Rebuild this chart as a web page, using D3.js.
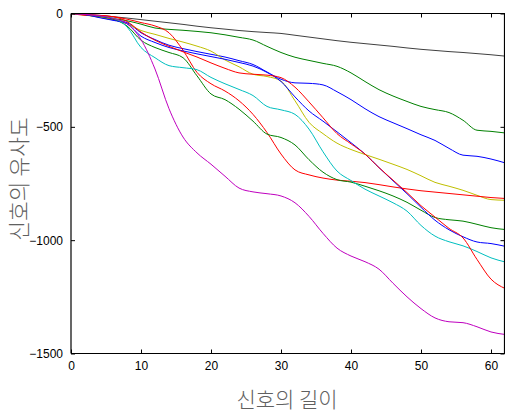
<!DOCTYPE html>
<html>
<head>
<meta charset="utf-8">
<script src="https://cdn.jsdelivr.net/npm/d3@7"></script>
<style>
  html, body { margin: 0; padding: 0; background: #fff; }
  svg { display: block; }
</style>
</head>
<body>
<svg id="chart" width="505" height="412"></svg>
<script>
// ---- data ----
const lengths = [0,2,4,6,8,10,12,14,16,18,20,22,24,26,28,30,32,34,36,38,40,42,44,46,48,50,52,54,56,58,60,62];

const seriesGray    = [0,-3,-8,-14,-20,-27,-34,-41,-48,-56,-63,-69,-75,-80,-84,-88,-96,-104,-112,-120,-127,-133,-139,-145,-152,-158,-163,-168,-172,-177,-182,-188];
const seriesGreen1  = [0,-6,-14,-22,-32,-47,-64,-70,-74,-79,-85,-94,-105,-117,-145,-172,-193,-207,-220,-233,-262,-300,-336,-364,-388,-410,-424,-437,-471,-515,-520,-527];
const seriesBlue1   = [0,-4,-16,-28,-40,-85,-115,-140,-155,-168,-180,-192,-208,-225,-258,-290,-306,-308,-315,-345,-380,-420,-455,-482,-508,-535,-560,-595,-625,-630,-642,-659];
const seriesYellow  = [0,-7,-16,-26,-45,-75,-92,-110,-126,-144,-166,-205,-235,-268,-278,-298,-385,-480,-530,-572,-600,-622,-643,-665,-688,-716,-745,-762,-780,-802,-821,-824];
const seriesRed1    = [0,-8,-10,-14,-25,-40,-55,-85,-162,-260,-310,-342,-385,-445,-525,-620,-690,-712,-726,-735,-740,-746,-755,-765,-774,-782,-788,-794,-800,-806,-812,-816];
const seriesGreen2  = [0,-4,-12,-25,-55,-118,-150,-172,-195,-275,-355,-380,-422,-475,-532,-547,-580,-645,-700,-733,-744,-762,-782,-805,-833,-868,-900,-910,-916,-930,-945,-953];
const seriesBlue2   = [0,-5,-18,-30,-45,-100,-128,-150,-165,-178,-190,-202,-216,-232,-260,-300,-368,-430,-475,-522,-570,-620,-680,-738,-795,-855,-912,-954,-985,-1008,-1015,-1027];
const seriesCyan    = [0,-4,-10,-20,-59,-150,-195,-230,-239,-248,-282,-310,-335,-362,-410,-425,-445,-510,-610,-695,-737,-775,-805,-835,-872,-935,-982,-1007,-1025,-1050,-1078,-1096];
const seriesRed2    = [0,-4,-8,-14,-35,-82,-118,-145,-169,-192,-218,-242,-262,-268,-272,-283,-325,-390,-460,-530,-575,-620,-680,-735,-790,-848,-898,-948,-990,-1085,-1172,-1213];
const seriesMagenta = [0,-4,-10,-22,-45,-115,-245,-420,-545,-615,-665,-718,-770,-787,-795,-805,-835,-895,-970,-1035,-1070,-1095,-1128,-1190,-1250,-1302,-1343,-1360,-1364,-1382,-1405,-1416];

const xTicks = [0,10,20,30,40,50,60];
const yTicks = [0,-500,-1000,-1500];
const xTitle = "신호의 길이";
const yTitle = "신호의 유사도";

const seriesList = [
  {values: seriesGray,    color: "#404040"},
  {values: seriesGreen1,  color: "#008000"},
  {values: seriesBlue1,   color: "#0000ff"},
  {values: seriesYellow,  color: "#bfbf00"},
  {values: seriesRed1,    color: "#ff0000"},
  {values: seriesGreen2,  color: "#008000"},
  {values: seriesBlue2,   color: "#0000ff"},
  {values: seriesCyan,    color: "#00bfbf"},
  {values: seriesRed2,    color: "#ff0000"},
  {values: seriesMagenta, color: "#bf00bf"}
];

// ---- layout ----
const svg = d3.select("#chart");
const x = d3.scaleLinear().domain([0, 62]).range([71, 505]);
const y = d3.scaleLinear().domain([-1500, 0]).range([353.5, 13.5]);

// lines
const line = d3.line()
  .x((d, i) => x(lengths[i]))
  .y(d => y(d))
  .curve(d3.curveMonotoneX);

svg.append("g")
  .selectAll("path")
  .data(seriesList)
  .join("path")
  .attr("fill", "none")
  .attr("stroke", d => d.color)
  .attr("stroke-width", 1)
  .attr("d", d => line(d.values));

// axes (ticks inside, MATLAB style)
const tickFont = "'Liberation Sans', Arial, sans-serif";
const axB = svg.append("g").attr("transform", `translate(0,${y(-1500)})`)
  .call(d3.axisBottom(x).tickValues(xTicks).tickSize(-4).tickPadding(8).tickFormat(d3.format("d")));
const axT = svg.append("g").attr("transform", `translate(0,${y(0)})`)
  .call(d3.axisTop(x).tickValues(xTicks).tickSize(-4).tickFormat(""));
const axL = svg.append("g").attr("transform", `translate(${x(0)},0)`)
  .call(d3.axisLeft(y).tickValues(yTicks).tickSize(-4).tickPadding(8).tickFormat(d3.format("d")));
const axR = svg.append("g").attr("transform", `translate(${x(62) - 0.5},0)`)
  .call(d3.axisRight(y).tickValues(yTicks).tickSize(-4).tickFormat(""));

[axB, axT, axL, axR].forEach(a => {
  a.select(".domain").attr("stroke", "#000").attr("stroke-width", 1.2);
  a.selectAll(".tick line").attr("stroke", "#000");
  a.selectAll("text").attr("fill", "#000").style("font-family", tickFont).style("font-size", "12px");
});
axB.selectAll(".domain").attr("d", `M${x(0)},0H${x(62)}`);
axT.selectAll(".domain").attr("d", `M${x(0)},0H${x(62)}`);
axL.selectAll(".domain").attr("d", `M0,${y(0)}V${y(-1500)}`);
axR.selectAll(".domain").attr("d", `M0,${y(0)}V${y(-1500)}`);

// axis titles
const titleFont = "'Noto Sans CJK KR', 'Noto Sans', sans-serif";
svg.append("text")
  .attr("x", 287).attr("y", 407)
  .attr("text-anchor", "middle")
  .attr("fill", "#606060")
  .style("font-family", titleFont)
  .style("font-size", "21px")
  .style("font-weight", 300)
  .text(xTitle);

svg.append("text")
  .attr("transform", "translate(27,179) rotate(-90)")
  .attr("text-anchor", "middle")
  .attr("fill", "#606060")
  .style("font-family", titleFont)
  .style("font-size", "21.5px")
  .style("font-weight", 300)
  .text(yTitle);
</script>
</body>
</html>
